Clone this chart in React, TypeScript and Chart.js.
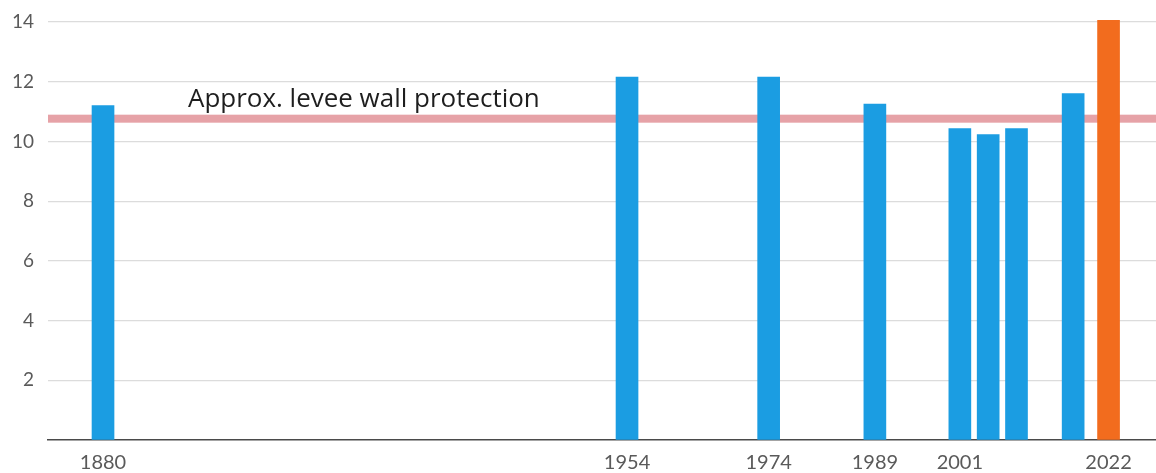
import React, { useEffect, useRef } from "react";
import { Chart, registerables } from "chart.js";

Chart.register(...registerables);

const years = [1880, 1954, 1974, 1989, 2001, 2005, 2009, 2017, 2022];
const heights = [11.2, 12.15, 12.15, 11.25, 10.43, 10.23, 10.43, 11.6, 14.05];
const barColors = ["#1b9de2", "#1b9de2", "#1b9de2", "#1b9de2", "#1b9de2", "#1b9de2", "#1b9de2", "#1b9de2", "#f26c1e"];
const xTickYears = [1880, 1954, 1974, 1989, 2001, 2022];
const yTickValues = [0, 2, 4, 6, 8, 10, 12, 14];
const leveeHeight = 10.76;
const leveeLabel = "Approx. levee wall protection";

const FONT = "Lato, 'Open Sans', sans-serif";
const LABEL_FONT = "'Open Sans', Lato, sans-serif";

const leveePlugin = {
  id: "leveeLine",
  beforeDatasetsDraw(chart: any) {
    const { ctx, chartArea, scales } = chart;
    const y = scales.y.getPixelForValue(leveeHeight);
    ctx.save();
    ctx.fillStyle = "#e6a2a7";
    ctx.fillRect(chartArea.left, y - 4, chartArea.right - chartArea.left, 8);
    ctx.fillStyle = "#1e1e1e";
    ctx.font = `22px ${LABEL_FONT}`;
    const w = ctx.measureText(leveeLabel).width;
    const size = Math.min(26, (22 * 352) / w);
    ctx.font = `${size}px ${LABEL_FONT}`;
    ctx.textBaseline = "alphabetic";
    ctx.textAlign = "left";
    ctx.fillText(leveeLabel, chartArea.left + 140, y - 12);
    ctx.restore();
  },
};

export default function App() {
  const canvasRef = useRef<HTMLCanvasElement | null>(null);

  useEffect(() => {
    if (!canvasRef.current) return;
    const chart = new Chart(canvasRef.current, {
      type: "bar",
      data: {
        datasets: [
          {
            data: years.map((yr, i) => ({ x: yr, y: heights[i] })),
            backgroundColor: barColors,
            barThickness: 22,
            borderWidth: 0,
          },
        ],
      },
      options: {
        animation: false,
        responsive: true,
        maintainAspectRatio: false,
        layout: { padding: { top: 7, left: 0, right: 0, bottom: 0 } },
        plugins: {
          legend: { display: false },
          tooltip: { enabled: false },
        },
        scales: {
          x: {
            type: "linear",
            min: 1872.23,
            max: 2028.7,
            offset: false,
            grid: { display: false, offset: false, drawTicks: false },
            border: { display: true, color: "#4a4a4a", width: 1.5 },
            afterBuildTicks: (scale: any) => {
              scale.ticks = xTickYears.map((v) => ({ value: v }));
            },
            afterFit: (scale: any) => {
              scale.height = 33;
              scale.paddingLeft = 0;
              scale.paddingRight = 0;
            },
            ticks: {
              autoSkip: false,
              maxRotation: 0,
              padding: 11,
              color: "#5a5a5a",
              font: { family: FONT, size: 20 },
              callback: (v: any) => String(v),
            },
          },
          y: {
            min: 0,
            max: 14.5,
            grid: {
              drawTicks: false,
              color: (ctx: any) => (ctx.tick && ctx.tick.value === 0 ? "rgba(0,0,0,0)" : "#dcdcdc"),
              lineWidth: 1.2,
            },
            border: { display: false },
            afterBuildTicks: (scale: any) => {
              scale.ticks = yTickValues.map((v) => ({ value: v }));
            },
            afterFit: (scale: any) => {
              scale.width = 48;
              scale.paddingTop = 0;
              scale.paddingBottom = 0;
            },
            ticks: {
              padding: 14,
              color: "#5a5a5a",
              font: { family: FONT, size: 19 },
              callback: (v: any) => (v === 0 ? "" : String(v)),
            },
          },
        },
      },
      plugins: [leveePlugin],
    });
    return () => chart.destroy();
  }, []);

  return (
    <div style={{ position: "fixed", left: 0, top: 0, width: 1156, height: 473, background: "#fff" }}>
      <canvas ref={canvasRef} />
    </div>
  );
}
